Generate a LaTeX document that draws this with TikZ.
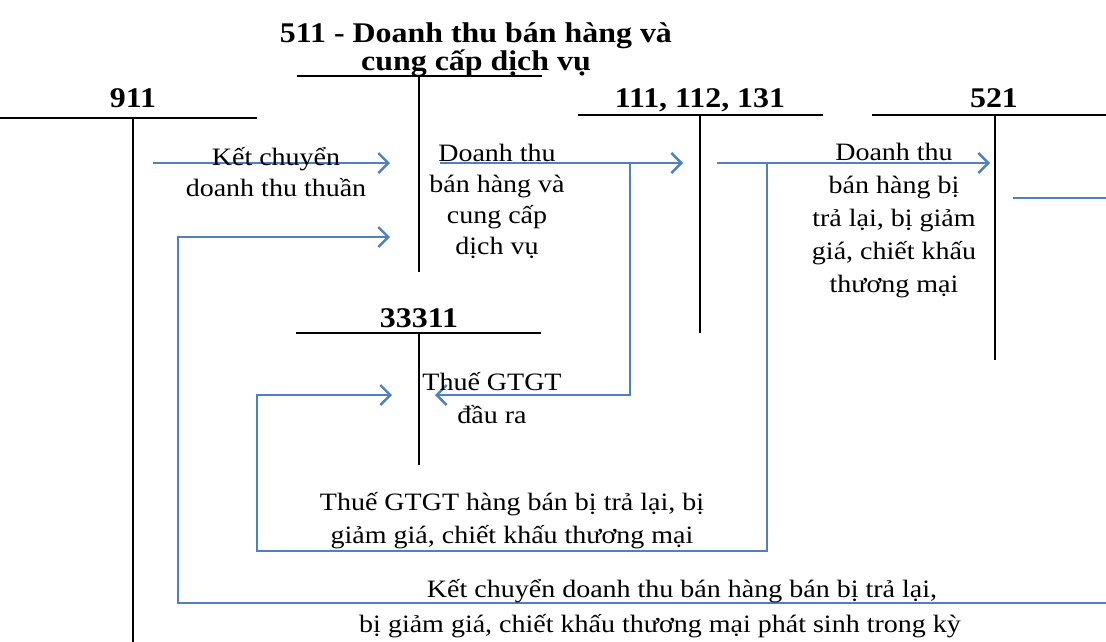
\documentclass[tikz,border=0pt]{standalone}
\usepackage{fontspec}
\setmainfont{Liberation Serif}[FakeStretch=1.12]
\usetikzlibrary{arrows.meta}
\definecolor{flow}{RGB}{79,129,189}
\tikzset{
  acct/.style={line width=2pt, black},
  flowline/.style={line width=2.4pt, flow},
  flowarrow/.style={flowline, -{Straight Barb[length=10pt,width=20pt]}},
  % multi-line nodes: the base anchor sits on the last line
  acctname/.style={font=\bfseries\fontsize{28.5}{28}\selectfont, inner sep=0pt, anchor=base, align=center},
  note/.style={font=\fontsize{25}{31}\selectfont, inner sep=0pt, anchor=base, align=center},
  widenote/.style={font=\fontsize{25}{33}\selectfont, inner sep=0pt, anchor=base, align=center},
}
\begin{document}
\begin{tikzpicture}[x=1pt,y=-1pt]
\useasboundingbox (0,0) rectangle (1106,641);
\fill[white] (0,0) rectangle (1106,641);
\clip (0,0) rectangle (1106,641);

% T-accounts
\draw[acct] (0,118) -- (257,118);   \draw[acct] (133,118) -- (133,650);
\draw[acct] (297,76) -- (542,76);   \draw[acct] (419,76) -- (419,272);
\draw[acct] (578,115) -- (823,115); \draw[acct] (700,115) -- (700,333);
\draw[acct] (872,115) -- (1110,115);\draw[acct] (995,115) -- (995,360);
\draw[acct] (296,333) -- (541,333); \draw[acct] (419,333) -- (419,465);

% account names
\node[acctname] (t911) at (133,107) {911};
\node[acctname] (t511) at (476,70) {511 - Doanh thu bán hàng và\\cung cấp dịch vụ};
\node[acctname] (t111) at (700,107) {111, 112, 131};
\node[acctname] (t521) at (994,107) {521};
\node[acctname] (t333) at (419,327) {33311};

% connector end points
\coordinate (a1s) at (153,163); \coordinate (a1e) at (390,163);
\coordinate (a2s) at (440,163); \coordinate (a2e) at (683,163);
\coordinate (a3s) at (717,163); \coordinate (a3e) at (990,163);
\coordinate (b1) at (630,163);  \coordinate (b1e) at (435,395);
\coordinate (b2) at (767,163);  \coordinate (b2e) at (392,395);
\coordinate (c1) at (1013,198); \coordinate (c1e) at (390,237);

% flows
\draw[flowarrow] (a1s) -- (a1e);
\draw[flowarrow] (a2s) -- (a2e);
\draw[flowarrow] (a3s) -- (a3e);
\draw[flowarrow] (b1) |- (b1e);
\draw[flowarrow] (b2) -- (767,551) -- (257,551) -- (257,395) -- (b2e);
\draw[flowarrow] (c1) -- (1116,198) -- (1116,603) -- (178,603) -- (178,237) -- (c1e);

% labels
\node[note] (l1) at (276,196) {Kết chuyển\\doanh thu thuần};
\node[note] (l2) at (497,254) {Doanh thu\\bán hàng và\\cung cấp\\dịch vụ};
\node[widenote] (l3) at (894,292) {Doanh thu\\bán hàng bị\\trả lại, bị giảm\\giá, chiết khấu\\thương mại};
\node[widenote] (l4) at (492,423) {Thuế GTGT\\đầu ra};
\node[widenote] (l5) at (512,543) {Thuế GTGT hàng bán bị trả lại, bị\\giảm giá, chiết khấu thương mại};
\node[note] (l6) at (682,597) {Kết chuyển doanh thu bán hàng bán bị trả lại,};
\node[note] (l7) at (660,632) {bị giảm giá, chiết khấu thương mại phát sinh trong kỳ};
\end{tikzpicture}
\end{document}
